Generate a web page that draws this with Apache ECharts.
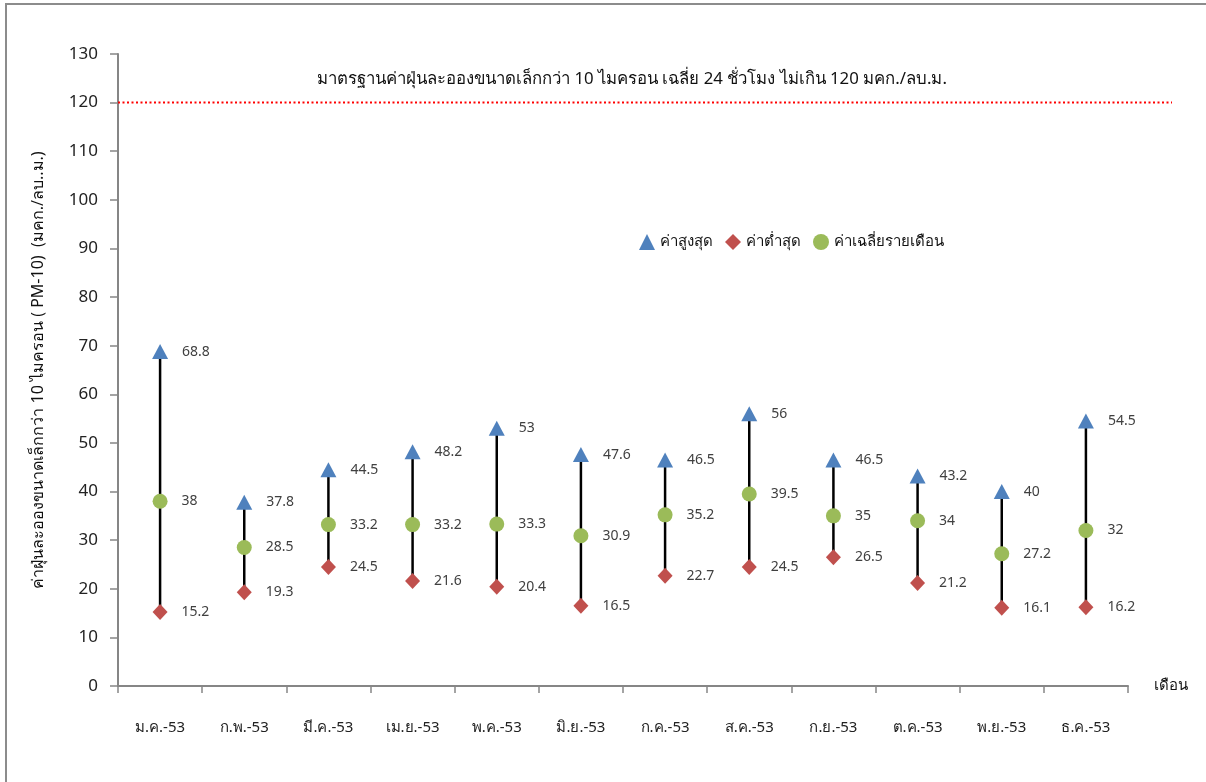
<!DOCTYPE html>
<html>
<head>
<meta charset="utf-8">
<script src="https://cdn.jsdelivr.net/npm/echarts@6/dist/echarts.min.js"></script>
<style>
  html, body { margin: 0; padding: 0; background: #fff; }
  #chart { width: 1206px; height: 782px; }
</style>
</head>
<body>
<div id="chart"></div>
<script>
// Monthly PM-10 readings, 2553 (B.E.)
const months = ['ม.ค.-53', 'ก.พ.-53', 'มี.ค.-53', 'เม.ย.-53', 'พ.ค.-53', 'มิ.ย.-53',
                'ก.ค.-53', 'ส.ค.-53', 'ก.ย.-53', 'ต.ค.-53', 'พ.ย.-53', 'ธ.ค.-53'];
const maxValues = [68.8, 37.8, 44.5, 48.2, 53, 47.6, 46.5, 56, 46.5, 43.2, 40, 54.5];
const minValues = [15.2, 19.3, 24.5, 21.6, 20.4, 16.5, 22.7, 24.5, 26.5, 21.2, 16.1, 16.2];
const avgValues = [38, 28.5, 33.2, 33.2, 33.3, 30.9, 35.2, 39.5, 35, 34, 27.2, 32];
const standardValue = 120;
const yTicks = { min: 0, max: 130, interval: 10 };

const FONT = "Tahoma, 'Noto Sans', 'DejaVu Sans', sans-serif";
const axisGray = '#868686';
const textColor = '#404040';

const chart = echarts.init(document.getElementById('chart'), null, { renderer: 'canvas' });

const pointLabel = {
  show: true,
  position: 'right',
  distance: 14,
  color: textColor,
  fontSize: 14,
  fontFamily: FONT,
  formatter: p => String(p.value)
};

chart.setOption({
  animation: false,
  backgroundColor: '#fff',
  textStyle: { fontFamily: FONT },
  graphic: [{
    type: 'rect',
    shape: { x: 6, y: 4, width: 1400, height: 1000 },
    style: { fill: 'none', stroke: '#8c8c8c', lineWidth: 2 },
    silent: true, z: -10
  }],
  title: {
    text: 'มาตรฐานค่าฝุ่นละอองขนาดเล็กกว่า 10 ไมครอน เฉลี่ย 24 ชั่วโมง ไม่เกิน 120 มคก./ลบ.ม.',
    left: 627, top: 66, textAlign: 'center',
    textStyle: { fontSize: 16.8, fontWeight: 'normal', color: '#111', fontFamily: FONT }
  },
  legend: {
    left: 634, top: 229,
    itemGap: 12, itemWidth: 16, itemHeight: 16,
    textStyle: { fontSize: 15, color: '#111', fontFamily: FONT },
    data: ['ค่าสูงสุด', 'ค่าต่ำสุด', 'ค่าเฉลี่ยรายเดือน']
  },
  grid: [
    { left: 118, right: 78, top: 54, bottom: 96 },
    { left: 118, right: 34, top: 54, bottom: 96 }
  ],
  xAxis: [{
    type: 'category', gridIndex: 0,
    data: months, boundaryGap: true,
    name: 'เดือน', nameLocation: 'end', nameGap: 26,
    nameTextStyle: { fontSize: 15, color: '#111', fontFamily: FONT, padding: [28, 0, 0, 0] },
    axisLine: { lineStyle: { color: axisGray, width: 2 } },
    axisTick: { show: true, interval: 0, length: 7, lineStyle: { color: axisGray, width: 1.5 } },
    axisLabel: { interval: 0, margin: 34, fontSize: 15, color: '#222', fontFamily: FONT }
  }, {
    type: 'value', gridIndex: 1, min: 0, max: 1, show: false
  }],
  yAxis: [{
    type: 'value', gridIndex: 0,
    min: yTicks.min, max: yTicks.max, interval: yTicks.interval,
    name: 'ค่าฝุ่นละอองขนาดเล็กกว่า 10 ไมครอน ( PM-10)  (มคก./ลบ..ม.)',
    nameLocation: 'middle', nameGap: 72, nameRotate: 90,
    nameTextStyle: { fontSize: 16, color: '#111', fontFamily: FONT },
    axisLine: { show: true, lineStyle: { color: axisGray, width: 2 } },
    axisTick: { show: true, length: 8, lineStyle: { color: axisGray, width: 1.5 } },
    axisLabel: { margin: 20, fontSize: 17, color: '#222', fontFamily: FONT },
    splitLine: { show: false }
  }, {
    type: 'value', gridIndex: 1, min: yTicks.min, max: yTicks.max, show: false
  }],
  series: [
    {
      // 24-hour standard limit
      name: 'standard', type: 'line', xAxisIndex: 1, yAxisIndex: 1,
      data: [[0, standardValue], [1, standardValue]],
      symbol: 'none', silent: true,
      lineStyle: { color: '#ff0000', width: 2, type: [2, 2.5] }
    },
    {
      // high-low connector for each month
      name: 'range', type: 'custom', xAxisIndex: 0, yAxisIndex: 0,
      data: months.map((m, i) => [i, minValues[i], maxValues[i]]),
      encode: { x: 0, y: [1, 2] },
      renderItem: (params, api) => {
        const lo = api.coord([api.value(0), api.value(1)]);
        const hi = api.coord([api.value(0), api.value(2)]);
        return {
          type: 'line',
          shape: { x1: lo[0], y1: lo[1], x2: hi[0], y2: hi[1] },
          style: { stroke: '#000', lineWidth: 2.5 }
        };
      },
      z: 1, silent: true
    },
    {
      name: 'ค่าสูงสุด', type: 'scatter', data: maxValues,
      symbol: 'triangle', symbolSize: [16, 15],
      itemStyle: { color: '#4F81BD', opacity: 1 },
      label: pointLabel, z: 5
    },
    {
      name: 'ค่าต่ำสุด', type: 'scatter', data: minValues,
      symbol: 'diamond', symbolSize: [15, 16],
      itemStyle: { color: '#C0504D', opacity: 1 },
      label: pointLabel, z: 5
    },
    {
      name: 'ค่าเฉลี่ยรายเดือน', type: 'scatter', data: avgValues,
      symbol: 'circle', symbolSize: 15,
      itemStyle: { color: '#9BBB59', opacity: 1 },
      label: pointLabel, z: 5
    }
  ]
});
</script>
</body>
</html>
